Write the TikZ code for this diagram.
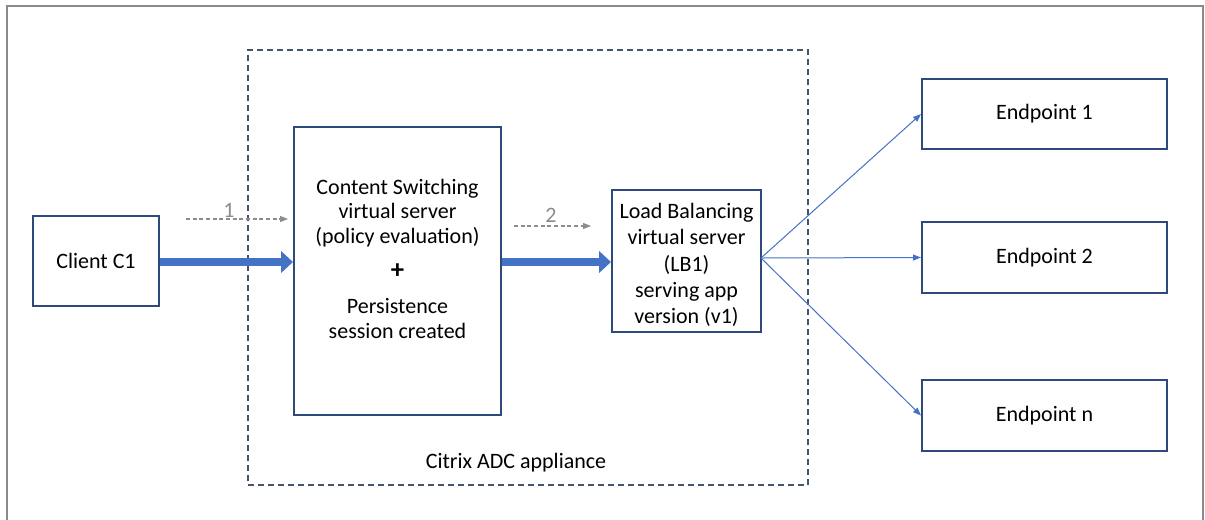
\documentclass[tikz,border=0pt]{standalone}
\usepackage{fontspec}
\setmainfont{Carlito}
\usetikzlibrary{arrows.meta}
\definecolor{boxc}{HTML}{2E4A7D}
\definecolor{arrc}{HTML}{4472C4}
\definecolor{dashc}{HTML}{44546A}
\definecolor{grayc}{HTML}{8C8C8C}
\definecolor{framec}{HTML}{8A8A8A}
\begin{document}
\begin{tikzpicture}[x=0.75pt,y=-0.75pt,
  every node/.style={font=\fontsize{16.5}{18.4}\selectfont, inner sep=0pt},
  box/.style={draw=boxc, line width=1.5pt, fill=white, align=center},
  thick arrow/.style={draw=arrc, line width=6.5pt, -{Triangle[length=9pt,width=16pt]}},
  thin arrow/.style={draw=arrc, line width=0.75pt, -{Triangle[length=6pt,width=4.5pt]}},
  step arrow/.style={draw=grayc, line width=0.8pt, dash pattern=on 3pt off 2pt, -{Triangle[length=6pt,width=4.5pt]}},
  steplabel/.style={text=grayc}]
\useasboundingbox (0,0) rectangle (1205,519);
% outer frame
\draw[framec, line width=1.5pt] (7,530) -- (7,6) -- (1203,6) -- (1203,530);
% appliance
\node[draw=dashc, line width=1.1pt, dash pattern=on 4.5pt off 3pt, minimum width=420pt, minimum height=326.25pt] (adc) at (528,267.5) {};
\node (adclabel) at (516,463) {Citrix ADC appliance};
% boxes
\node[box, minimum width=94.5pt, minimum height=67.5pt] (client) at (96,261) {Client C1};
\node[box, minimum width=155.25pt, minimum height=216pt] (cs) at (397.5,271) {};
\node[align=center] (cstext) at (397.5,258.5) {Content Switching\\virtual server\\(policy evaluation)\\[8pt]{\fontsize{20}{20}\selectfont\bfseries +}\\[8pt]Persistence\\session created};
\node[box, minimum width=111.75pt, minimum height=106.5pt] (lb) at (686.5,261) {};
\node[align=center, font=\fontsize{16.5}{19.8}\selectfont] (lbtext) at (686.5,265) {Load Balancing\\virtual server\\(LB1)\\serving app\\version (v1)};
\node[box, minimum width=183.75pt, minimum height=52.5pt] (e1) at (1044.5,114) {\raisebox{-2pt}{Endpoint 1}};
\node[box, minimum width=183.75pt, minimum height=53.25pt] (e2) at (1044.5,257.5) {\raisebox{-2pt}{Endpoint 2}};
\node[box, minimum width=183.75pt, minimum height=53.25pt] (en) at (1044.5,415.5) {\raisebox{-1pt}{Endpoint n}};
% thick arrows
\draw[thick arrow] (client.east |- 0,262) -- (cs.west |- 0,262);
\draw[thick arrow] (cs.east |- 0,262) -- (lb.west |- 0,262);
% step arrows
\coordinate (s1a) at (186,219);
\coordinate (s1b) at (288,219);
\coordinate (s2a) at (514,226);
\coordinate (s2b) at (591,226);
\draw[step arrow] (s1a) -- (s1b);
\draw[step arrow] (s2a) -- (s2b);
\node[steplabel] (l1) at (229,210) {1};
\node[steplabel] (l2) at (551,215) {2};
% fan-out
\coordinate (fan) at (761,258);
\draw[thin arrow] (fan) -- (e1.west);
\draw[thin arrow] (fan) -- (e2.west);
\draw[thin arrow] (fan) -- (en.west);
\end{tikzpicture}
\end{document}
